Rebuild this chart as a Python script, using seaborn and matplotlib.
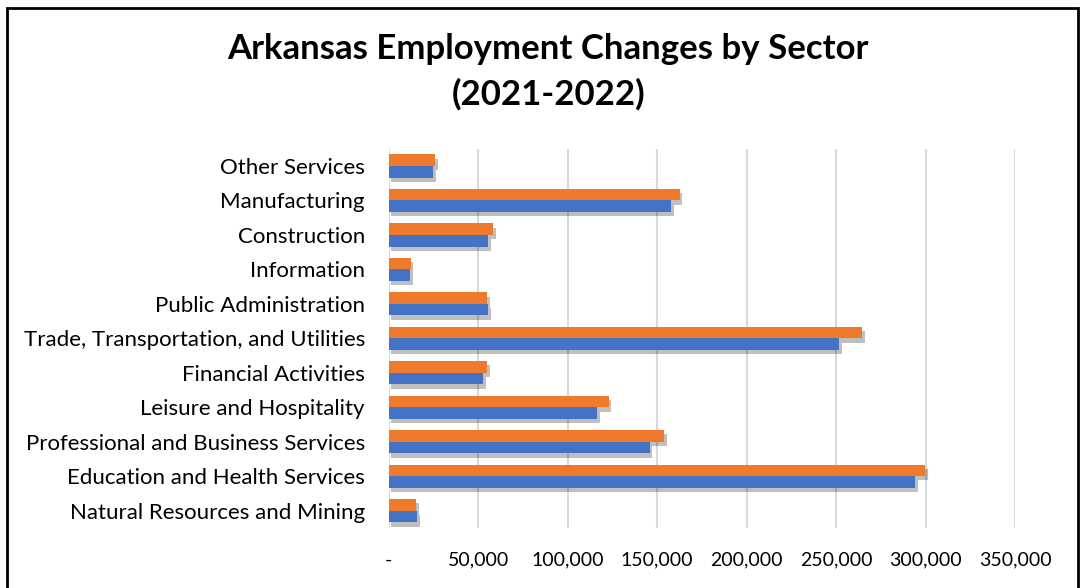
import matplotlib
matplotlib.use("Agg")
import matplotlib.pyplot as plt
import matplotlib.patheffects as pe
from matplotlib.patches import Rectangle
from matplotlib.ticker import FuncFormatter
import seaborn as sns
import pandas as pd

sectors = [
    "Other Services",
    "Manufacturing",
    "Construction",
    "Information",
    "Public Administration",
    "Trade, Transportation, and Utilities",
    "Financial Activities",
    "Leisure and Hospitality",
    "Professional and Business Services",
    "Education and Health Services",
    "Natural Resources and Mining",
]
employment_2021 = [24900, 157600, 55500, 11900, 55500, 251600, 52800, 116300, 145800, 294200, 15900]
employment_2022 = [25900, 162500, 58300, 12400, 55000, 264600, 55000, 122900, 154000, 299600, 15400]
years = ["2022", "2021"]
x_ticks = [0, 50000, 100000, 150000, 200000, 250000, 300000, 350000]

df = pd.concat([
    pd.DataFrame({"Sector": sectors, "Year": "2021", "Employment": employment_2021}),
    pd.DataFrame({"Sector": sectors, "Year": "2022", "Employment": employment_2022}),
])

sns.set_theme(style="white")
plt.rcParams["font.family"] = ["Lato", "DejaVu Sans"]

fig = plt.figure(figsize=(10.81, 5.88), dpi=100)
ax = fig.add_axes([0.3594, 0.102, 0.5798, 0.645])

sns.barplot(
    data=df, y="Sector", x="Employment", hue="Year",
    order=sectors, hue_order=years,
    palette={"2022": "#F07A2C", "2021": "#4472C4"}, saturation=1,
    width=0.67, orient="h", ax=ax, legend=False, zorder=3,
)

shadow = [pe.SimplePatchShadow(offset=(2, -3), shadow_rgbFace="black", alpha=0.25), pe.Normal()]
for patch in ax.patches:
    patch.set_linewidth(0)
    patch.set_path_effects(shadow)

ax.set_xlim(0, 350000)
ax.set_xticks(x_ticks)
ax.xaxis.set_major_formatter(FuncFormatter(lambda v, _: "-" if v == 0 else f"{int(v):,}"))
ax.grid(axis="x", color="#D9D9D9", linewidth=1.5, zorder=0)
ax.grid(axis="y", visible=False)
for s in ax.spines.values():
    s.set_visible(False)
ax.tick_params(axis="x", length=0, pad=17, labelsize=14, colors="black")
ax.tick_params(axis="y", length=0, pad=17, labelsize=16, colors="black")
ax.set_xlabel("")
ax.set_ylabel("")

fig.text(0.507, 0.878, "Arkansas Employment Changes by Sector\n(2021-2022)",
         ha="center", va="center", fontsize=25, fontweight="bold",
         linespacing=1.47, color="black")

fig.patches.append(Rectangle((7 / 1081, -0.02), (1078 - 7) / 1081, 1 - 8 / 588 + 0.02,
                             transform=fig.transFigure, fill=False,
                             edgecolor="black", linewidth=2, zorder=10))

fig.savefig("out.png", dpi=100)
